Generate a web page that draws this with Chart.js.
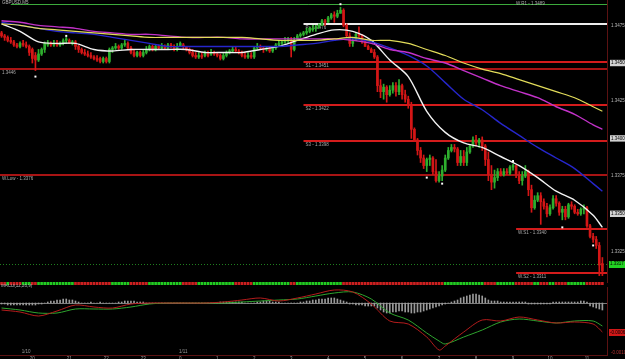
<!DOCTYPE html>
<html><head><meta charset="utf-8">
<script src="https://cdn.jsdelivr.net/npm/chart.js@4.4.1/dist/chart.umd.min.js"></script>
<style>
html,body{margin:0;padding:0;background:#000;overflow:hidden;width:625px;height:359px}
canvas{position:absolute;left:0;display:block}
</style></head><body>
<canvas id="cPrice" width="625" height="283" style="top:0"></canvas>
<canvas id="cRow" width="625" height="3" style="top:282px"></canvas>
<canvas id="cMacd" width="625" height="80" style="top:284px"></canvas>
<script>
// ---------------- DATA ----------------
const symbolTitle = 'GBPUSD,M5';
const macdTitle = 'MACD(12,26,9)';
const hourLabels = ['20','21','22','23','0','1','2','3','4','5','6','7','8','9','10','11'];
const firstHourBar = 10;
const barsPerHour = 12;
const dateLabels = ['1/10','1/11'];
const dateLabelBars = [8, 59];
const priceTicks = [1.3325,1.3350,1.3375,1.3400,1.3425,1.3450,1.3475];
const macdTicks = [-0.0010];

const openP = [
1.3470,1.3468,1.3467,1.3465,1.3464,1.3462,1.3461,1.3463,1.3462,1.3461,
1.3459,1.3455,1.3452,1.3456,1.3459,1.3462,1.3463,1.3462,1.3463,1.3462,
1.3463,1.3465,1.3465,1.3463,1.3464,1.3461,1.3459,1.3457,1.3456,1.3455,
1.3454,1.3453,1.3453,1.3451,1.3453,1.3451,1.3459,1.3460,1.3461,1.3460,
1.3462,1.3463,1.3460,1.3457,1.3455,1.3457,1.3455,1.3457,1.3459,1.3461,
1.3459,1.3461,1.3460,1.3461,1.3460,1.3462,1.3461,1.3459,1.3461,1.3462,
1.3461,1.3459,1.3457,1.3455,1.3454,1.3455,1.3455,1.3457,1.3456,1.3457,
1.3456,1.3455,1.3453,1.3455,1.3457,1.3458,1.3459,1.3458,1.3457,1.3455,
1.3454,1.3455,1.3454,1.3460,1.3461,1.3460,1.3459,1.3460,1.3458,1.3460,
1.3462,1.3463,1.3464,1.3465,1.3465,1.3459,1.3465,1.3468,1.3469,1.3470,
1.3471,1.3472,1.3473,1.3474,1.3475,1.3478,1.3477,1.3480,1.3482,1.3481,
1.3483,1.3485,1.3475,1.3468,1.3463,1.3465,1.3469,1.3468,1.3464,1.3461,
1.3459,1.3457,1.3454,1.3435,1.3431,1.3434,1.3429,1.3432,1.3435,1.3431,
1.3435,1.3429,1.3426,1.3422,1.3406,1.3399,1.3392,1.3387,1.3382,1.3386,
1.3387,1.3378,1.3372,1.3375,1.3379,1.3387,1.3392,1.3394,1.3393,1.3384,
1.3388,1.3384,1.3391,1.3395,1.3399,1.3397,1.3399,1.3395,1.3386,1.3376,
1.3371,1.3374,1.3378,1.3376,1.3378,1.3377,1.3381,1.3382,1.3376,1.3372,
1.3375,1.3378,1.3366,1.3354,1.3359,1.3362,1.3358,1.3355,1.3350,1.3354,
1.3360,1.3357,1.3351,1.3353,1.3348,1.3356,1.3355,1.3351,1.3350,1.3353,
1.3354,1.3342,1.3335,1.3333,1.3329,1.3317];
const highP = [
1.3471,1.3469,1.3468,1.3467,1.3465,1.3463,1.3464,1.3465,1.3464,1.3462,
1.3460,1.3457,1.3459,1.3460,1.3464,1.3465,1.3464,1.3465,1.3465,1.3464,
1.3466,1.3467,1.3466,1.3465,1.3465,1.3462,1.3460,1.3459,1.3458,1.3457,
1.3455,1.3455,1.3454,1.3454,1.3454,1.3460,1.3461,1.3463,1.3462,1.3463,
1.3465,1.3464,1.3461,1.3459,1.3458,1.3458,1.3459,1.3461,1.3462,1.3462,
1.3462,1.3462,1.3463,1.3462,1.3463,1.3463,1.3462,1.3463,1.3464,1.3463,
1.3461,1.3460,1.3459,1.3457,1.3457,1.3457,1.3458,1.3458,1.3459,1.3458,
1.3457,1.3456,1.3457,1.3458,1.3459,1.3461,1.3461,1.3459,1.3458,1.3457,
1.3457,1.3457,1.3461,1.3463,1.3462,1.3461,1.3461,1.3461,1.3461,1.3463,
1.3465,1.3465,1.3467,1.3467,1.3467,1.3467,1.3469,1.3470,1.3471,1.3473,
1.3474,1.3475,1.3475,1.3476,1.3479,1.3479,1.3481,1.3483,1.3484,1.3485,
1.3487,1.3486,1.3476,1.3470,1.3467,1.3470,1.3474,1.3469,1.3465,1.3462,
1.3460,1.3459,1.3455,1.3439,1.3436,1.3435,1.3435,1.3437,1.3437,1.3439,
1.3436,1.3432,1.3428,1.3424,1.3407,1.3400,1.3394,1.3389,1.3387,1.3389,
1.3388,1.3386,1.3378,1.3382,1.3389,1.3394,1.3396,1.3396,1.3394,1.3392,
1.3392,1.3394,1.3396,1.3401,1.3402,1.3400,1.3401,1.3396,1.3391,1.3382,
1.3379,1.3380,1.3380,1.3380,1.3380,1.3382,1.3383,1.3382,1.3378,1.3378,
1.3382,1.3379,1.3369,1.3362,1.3364,1.3364,1.3360,1.3357,1.3356,1.3362,
1.3362,1.3358,1.3355,1.3355,1.3357,1.3358,1.3356,1.3353,1.3354,1.3356,
1.3355,1.3343,1.3337,1.3335,1.3331,1.3321];
const lowP = [
1.3467,1.3465,1.3464,1.3463,1.3461,1.3460,1.3460,1.3461,1.3460,1.3455,
1.3450,1.3445,1.3451,1.3455,1.3457,1.3461,1.3461,1.3461,1.3461,1.3461,
1.3462,1.3463,1.3463,1.3462,1.3459,1.3457,1.3456,1.3455,1.3454,1.3453,
1.3452,1.3451,1.3450,1.3450,1.3450,1.3450,1.3457,1.3459,1.3459,1.3459,
1.3461,1.3459,1.3456,1.3454,1.3454,1.3454,1.3454,1.3456,1.3458,1.3458,
1.3458,1.3459,1.3459,1.3459,1.3459,1.3460,1.3458,1.3458,1.3461,1.3459,
1.3458,1.3456,1.3454,1.3453,1.3453,1.3453,1.3454,1.3454,1.3455,1.3455,
1.3454,1.3452,1.3452,1.3454,1.3456,1.3457,1.3457,1.3456,1.3454,1.3453,
1.3453,1.3453,1.3453,1.3459,1.3459,1.3457,1.3458,1.3457,1.3457,1.3459,
1.3461,1.3462,1.3463,1.3463,1.3454,1.3458,1.3465,1.3467,1.3468,1.3469,
1.3470,1.3471,1.3471,1.3473,1.3475,1.3475,1.3477,1.3479,1.3477,1.3480,
1.3483,1.3474,1.3467,1.3461,1.3461,1.3465,1.3467,1.3463,1.3461,1.3459,
1.3457,1.3453,1.3431,1.3427,1.3426,1.3424,1.3428,1.3430,1.3428,1.3429,
1.3426,1.3424,1.3420,1.3400,1.3398,1.3389,1.3384,1.3380,1.3378,1.3382,
1.3376,1.3371,1.3371,1.3372,1.3378,1.3386,1.3391,1.3391,1.3382,1.3382,
1.3382,1.3382,1.3390,1.3394,1.3395,1.3394,1.3392,1.3382,1.3372,1.3366,
1.3367,1.3372,1.3375,1.3375,1.3376,1.3376,1.3379,1.3374,1.3370,1.3369,
1.3374,1.3362,1.3351,1.3353,1.3358,1.3343,1.3353,1.3348,1.3349,1.3353,
1.3355,1.3349,1.3346,1.3346,1.3347,1.3353,1.3350,1.3349,1.3349,1.3350,
1.3341,1.3334,1.3331,1.3327,1.3309,1.3309];
const closeP = [
1.3468,1.3467,1.3465,1.3464,1.3462,1.3461,1.3463,1.3462,1.3461,1.3457,
1.3453,1.3452,1.3456,1.3459,1.3463,1.3463,1.3462,1.3463,1.3462,1.3463,
1.3465,1.3466,1.3463,1.3464,1.3461,1.3459,1.3457,1.3456,1.3455,1.3454,
1.3453,1.3452,1.3451,1.3453,1.3451,1.3459,1.3460,1.3461,1.3460,1.3462,
1.3463,1.3460,1.3457,1.3455,1.3457,1.3455,1.3457,1.3459,1.3461,1.3459,
1.3461,1.3460,1.3461,1.3460,1.3462,1.3461,1.3459,1.3461,1.3463,1.3461,
1.3459,1.3457,1.3455,1.3454,1.3455,1.3454,1.3457,1.3455,1.3457,1.3456,
1.3455,1.3453,1.3455,1.3457,1.3458,1.3459,1.3458,1.3457,1.3455,1.3454,
1.3455,1.3454,1.3460,1.3461,1.3460,1.3459,1.3460,1.3458,1.3460,1.3462,
1.3463,1.3464,1.3465,1.3466,1.3459,1.3465,1.3468,1.3469,1.3470,1.3471,
1.3473,1.3473,1.3474,1.3475,1.3478,1.3477,1.3480,1.3482,1.3481,1.3483,
1.3485,1.3475,1.3468,1.3463,1.3465,1.3469,1.3468,1.3464,1.3461,1.3459,
1.3457,1.3454,1.3435,1.3431,1.3434,1.3429,1.3432,1.3435,1.3431,1.3435,
1.3429,1.3426,1.3422,1.3406,1.3399,1.3392,1.3387,1.3382,1.3386,1.3387,
1.3378,1.3372,1.3375,1.3379,1.3387,1.3392,1.3394,1.3393,1.3384,1.3388,
1.3384,1.3391,1.3395,1.3399,1.3397,1.3399,1.3395,1.3386,1.3376,1.3371,
1.3374,1.3378,1.3376,1.3378,1.3377,1.3381,1.3382,1.3376,1.3372,1.3375,
1.3378,1.3366,1.3354,1.3359,1.3362,1.3358,1.3355,1.3350,1.3354,1.3360,
1.3357,1.3351,1.3353,1.3348,1.3356,1.3355,1.3351,1.3350,1.3353,1.3354,
1.3342,1.3335,1.3333,1.3329,1.3316,1.3312];

// moving averages read at these bar positions
const maIdx = [0,6,12,18,24,30,36,42,48,54,60,66,72,78,84,90,96,102,108,114,120,126,132,138,144,150,156,162,168,174,180,186,192,195];
const maWhite   = [1.3476,1.3471,1.3464,1.3463,1.3463,1.3459,1.3458,1.3459,1.3459,1.3459,1.3459,1.3457,1.3457,1.3457,1.3459,1.3461,1.3465,1.3469,1.3472,1.3471,1.3465,1.3452,1.3441,1.3418,1.3404,1.3397,1.3394,1.3388,1.3382,1.3374,1.3365,1.3359,1.3349,1.3341];
const maBlue    = [1.3477,1.3475,1.3473,1.3471,1.3470,1.3469,1.3467,1.3465,1.3463,1.3461,1.3461,1.3461,1.3461,1.3461,1.3461,1.3461,1.3462,1.3463,1.3465,1.3466,1.3464,1.3460,1.3455,1.3448,1.3437,1.3426,1.3419,1.3410,1.3402,1.3394,1.3387,1.3380,1.3370,1.3365];
const maMagenta = [1.3478,1.3477,1.3475,1.3474,1.3473,1.3471,1.3470,1.3469,1.3469,1.3468,1.3467,1.3467,1.3467,1.3466,1.3466,1.3466,1.3466,1.3466,1.3466,1.3465,1.3463,1.3459,1.3457,1.3453,1.3450,1.3445,1.3440,1.3435,1.3431,1.3427,1.3421,1.3416,1.3409,1.3406];
const maYellow  = [1.3476,1.3475,1.3473,1.3472,1.3471,1.3470,1.3469,1.3468,1.3467,1.3467,1.3467,1.3467,1.3467,1.3467,1.3466,1.3465,1.3465,1.3465,1.3466,1.3467,1.3465,1.3465,1.3463,1.3459,1.3455,1.3450,1.3446,1.3443,1.3439,1.3435,1.3431,1.3427,1.3421,1.3418];

const fractalIdx = [11,21,110,138,143,166,182,192];
const fractalVal = [1.3441,1.3468,1.3489,1.3374,1.3370,1.3385,1.3341,1.3329];

const pivotNames = ['P','S1','S2','S3'];
const pivotValues = [1.3476,1.3451,1.3422,1.3398];
const pivotStartBar = 98;
const weeklyNames = ['W.S1','W.S2'];
const weeklyValues = [1.3340,1.3311];
const weeklyStartBar = 167;
const upperLineName = 'W.R1';
const upperLineValue = 1.3489;
const upperLineStartBar = 3;
const fullLineNames = ['', 'W.Low'];
const fullLineValues = [1.3446, 1.3376];
const askPrice = 1.3317;

const trendRow = [
-1,-1,1,-1,-1,-1,-1,1,1,1,
-1,-1,1,1,1,1,1,1,1,1,
1,1,1,1,-1,-1,-1,-1,-1,-1,
-1,-1,-1,-1,-1,-1,1,1,1,1,
1,1,-1,-1,-1,-1,-1,-1,1,1,
1,1,1,1,1,1,1,1,1,-1,
-1,-1,-1,-1,1,1,1,1,1,1,
1,1,1,1,1,1,-1,-1,-1,-1,
-1,-1,1,1,1,1,1,1,1,1,
1,1,1,1,-1,-1,1,1,1,1,
1,1,1,1,1,1,1,1,1,1,
1,-1,-1,-1,-1,-1,-1,-1,-1,-1,
-1,-1,-1,-1,-1,-1,-1,-1,-1,-1,
-1,-1,-1,-1,-1,-1,-1,-1,-1,-1,
-1,-1,-1,-1,1,1,1,1,1,1,
1,1,1,1,1,1,1,-1,-1,-1,
-1,1,1,1,1,1,1,-1,-1,-1,
-1,-1,-1,1,1,-1,-1,-1,1,1,
-1,-1,-1,-1,1,1,1,1,1,1,
-1,-1,-1,-1,-1,-1];

const macdIdx    = [0,6,12,18,24,30,36,42,48,54,60,66,72,78,84,90,96,102,108,114,120,126,132,138,142,144,150,156,162,168,174,180,186,192,195];
const macdMain   = [-0.00014,-0.00018,-0.00026,-0.00016,-0.00004,-0.00008,-0.00010,-0.00002,0,0,0,0,0.00002,0.00006,0.00010,0.00004,0.00010,0.00018,0.00026,0.00022,-0.00002,-0.00036,-0.00042,-0.00068,-0.00094,-0.00086,-0.00058,-0.00034,-0.00036,-0.00028,-0.00034,-0.00040,-0.00038,-0.00042,-0.00058];
const macdSignal = [-0.00010,-0.00014,-0.00020,-0.00020,-0.00012,-0.00012,-0.00012,-0.00008,-0.00002,0,0,0,0,0.00002,0.00004,0.00006,0.00008,0.00014,0.00020,0.00022,0.00008,-0.00020,-0.00034,-0.00060,-0.00076,-0.00082,-0.00068,-0.00054,-0.00038,-0.00032,-0.00036,-0.00040,-0.00036,-0.00036,-0.00046];
const macdHist = [
-0.00002,-0.00002,-0.00004,-0.00004,-0.00004,-0.00004,-0.00004,-0.00004,-0.00004,-0.00004,
-0.00004,-0.00004,-0.00002,-0.00002,0,0.00002,0.00004,0.00004,0.00006,0.00006,
0.00008,0.00008,0.00006,0.00006,0.00004,0.00002,0,0,0,0.00002,
0,0,0.00002,0,0,0,0,0,0.00002,0.00002,
0.00004,0.00004,0.00004,0.00004,0.00002,0.00002,0.00002,0,0,0,
0,0,0,0,0,0,0,0,0,0,
0,0,0,0,0,0,0,0,0,0,
0,0.00002,0.00002,0.00002,0.00002,0.00002,0.00002,0.00002,0.00002,0,
0,0,0,0.00002,0.00002,0.00004,0.00004,0.00004,0.00002,0.00002,
0.00002,0,0,0,0,0,0,0.00002,0.00002,0.00004,
0.00004,0.00006,0.00006,0.00008,0.00008,0.00008,0.0001,0.0001,0.0001,0.00008,
0.00006,0.00004,0.00002,-0.00002,-0.00002,-0.00004,-0.00004,-0.00004,-0.00006,-0.00006,
-0.00006,-0.00006,-0.0001,-0.00014,-0.00018,-0.0002,-0.0002,-0.00018,-0.00018,-0.00016,
-0.00016,-0.00018,-0.00018,-0.0002,-0.0002,-0.00018,-0.00018,-0.00016,-0.00014,-0.00012,
-0.0001,-0.00008,-0.00006,-0.00004,-0.00002,0,0.00002,0.00004,0.00006,0.0001,
0.00012,0.00014,0.00016,0.00018,0.00018,0.00016,0.00014,0.0001,0.00006,0.00004,
0.00004,0.00004,0.00002,0.00002,0.00002,0.00002,0.00002,0.00002,0.00002,0.00002,
0.00002,-0.00002,-0.00002,-0.00002,-0.00002,-0.00002,-0.00002,-0.00002,-0.00002,0.00002,
0.00002,0.00002,0.00002,0.00002,0.00002,0.00002,0.00002,0.00002,0.00004,0.00004,
0.00002,-0.00006,-0.00008,-0.0001,-0.00012,-0.00014];

// ---------------- STYLE ----------------
const C = {
  bull:'#2eae2e', bear:'#d41616', axisText:'#b8b8b8', axisLine:'#5c1212',
  white:'#f2f2f2', blue:'#2626cc', magenta:'#c232c8', yellow:'#e2dc5a',
  pivotP:'#ececec', pivotS:'#d41c1c', fullLine:'#a81414', upper:'#3caa3c', ask:'#1f7f1f',
  label:'#a8a8a8', macdMain:'#b41c1c', macdSignal:'#2ea42e', hist:'#9a9a9a',
  rowUp:'#22cc22', rowDn:'#cc2020', boxBg:'#d2d2d2', askBox:'#22d222', macdBox:'#d01818'
};
const FONT = '"Liberation Sans", Arial, sans-serif';
const FS = 4.5;
const X_MIN = -0.5, X_MAX = 196.5, AXIS_W = 18;

const pts = (ix, vals) => ix.map((x, k) => ({x, y: vals[k]}));
function txt(ctx, s, x, y, color, align, base) {
  ctx.font = FS + 'px ' + FONT; ctx.fillStyle = color;
  ctx.textAlign = align || 'left'; ctx.textBaseline = base || 'top';
  ctx.fillText(s, x, y);
}
const noPad = s => { s.paddingTop = 0; s.paddingBottom = 0; s.paddingLeft = 0; s.paddingRight = 0; };
const candleColors = openP.map((o, i) => closeP[i] >= o ? C.bull : C.bear);
const common = { responsive:false, animation:false, devicePixelRatio:1, events:[],
  plugins:{ legend:{display:false}, tooltip:{enabled:false} } };

// ---------------- PRICE PANEL ----------------
const levelPlugin = {
  id:'levels',
  beforeDatasetsDraw(chart) {
    const {ctx, chartArea:a, scales:{x, y}} = chart;
    ctx.save();
    const hline = (val, fromX, color, w, dash) => {
      const py = Math.round(y.getPixelForValue(val)) + (w % 2 ? 0.5 : 0);
      ctx.strokeStyle = color; ctx.lineWidth = w; ctx.setLineDash(dash || []);
      ctx.beginPath(); ctx.moveTo(fromX, py); ctx.lineTo(a.right, py); ctx.stroke();
      ctx.setLineDash([]);
      return py;
    };
    fullLineValues.forEach((v, k) => {
      const py = hline(v, a.left, C.fullLine, 2);
      txt(ctx, (fullLineNames[k] ? fullLineNames[k] + ' - ' : '') + v.toFixed(4), a.left + 2, py + 2, C.label);
    });
    {
      const py = hline(upperLineValue, x.getPixelForValue(upperLineStartBar), C.upper, 1);
      txt(ctx, upperLineName + ' - ' + upperLineValue.toFixed(4), x.getPixelForValue(weeklyStartBar), py - 3, C.label);
    }
    const px0 = x.getPixelForValue(pivotStartBar);
    pivotValues.forEach((v, k) => {
      const py = hline(v, px0, k === 0 ? C.pivotP : C.pivotS, 2);
      txt(ctx, pivotNames[k] + ' - ' + v.toFixed(4), px0 + 2, py + 2, C.label);
    });
    const pw0 = x.getPixelForValue(weeklyStartBar);
    weeklyValues.forEach((v, k) => {
      const py = hline(v, pw0, C.pivotS, 2);
      txt(ctx, weeklyNames[k] + ' - ' + v.toFixed(4), pw0 + 2, py + 2, C.label);
    });
    hline(askPrice, a.left, C.ask, 1, [1, 2]);
    ctx.restore();
  },
  afterDraw(chart) {
    const {ctx, chartArea:a, scales:{y}} = chart;
    ctx.save();
    txt(ctx, symbolTitle, 2, 1, C.axisText);
    const py = y.getPixelForValue(askPrice);
    ctx.fillStyle = C.askBox; ctx.fillRect(a.right + 2, Math.round(py) - 3, 16, 7);
    txt(ctx, askPrice.toFixed(4), a.right + 3, py + 0.5, '#000', 'left', 'middle');
    ctx.restore();
  }
};

const isBoxed = v => Math.round(v * 10000) % 50 === 0;

new Chart(document.getElementById('cPrice'), {
  type:'bar',
  data:{ datasets:[
    {type:'line', data:pts(maIdx, maYellow), borderColor:C.yellow, borderWidth:1.2, pointRadius:0, tension:0.3, order:1},
    {type:'line', data:pts(maIdx, maMagenta), borderColor:C.magenta, borderWidth:1.4, pointRadius:0, tension:0.3, order:1},
    {type:'line', data:pts(maIdx, maBlue), borderColor:C.blue, borderWidth:1.4, pointRadius:0, tension:0.3, order:1},
    {type:'line', data:pts(maIdx, maWhite), borderColor:C.white, borderWidth:1.4, pointRadius:0, tension:0.3, order:1},
    {data:lowP.map((l, i) => ({x:i, y:[l, highP[i]]})), backgroundColor:candleColors, barThickness:1, grouped:false, order:3},
    {data:openP.map((o, i) => ({x:i, y:[o, closeP[i]]})), backgroundColor:candleColors, barThickness:2, minBarLength:1, grouped:false, order:2},
    {type:'line', data:pts(fractalIdx, fractalVal), showLine:false, pointStyle:'rect', pointRadius:1.4, backgroundColor:'#ffffff', borderWidth:0, order:0}
  ]},
  options:{ ...common,
    layout:{padding:0, autoPadding:false},
    scales:{
      x:{type:'linear', min:X_MIN, max:X_MAX, offset:false, display:false},
      y:{position:'right', min:1.33041, max:1.34918,
         afterFit:s => { s.width = AXIS_W; noPad(s); },
         afterBuildTicks:s => { s.ticks = priceTicks.map(v => ({value:v})); },
         grid:{display:false, drawTicks:false},
         border:{display:true, color:C.axisLine, width:1},
         ticks:{ padding:4, font:{family:FONT, size:FS},
           callback:v => v.toFixed(4),
           color:c => isBoxed(c.tick.value) ? '#000' : C.axisText,
           showLabelBackdrop:c => isBoxed(c.tick.value),
           backdropColor:C.boxBg, backdropPadding:{top:0.5, bottom:0.5, left:1, right:1} } }
    }
  },
  plugins:[levelPlugin]
});

// ---------------- TREND ROW ----------------
new Chart(document.getElementById('cRow'), {
  type:'bar',
  data:{ datasets:[{ data:trendRow.map((v, i) => ({x:i, y:[0, 1]})),
    backgroundColor:trendRow.map(v => v > 0 ? C.rowUp : C.rowDn), barThickness:2 }]},
  options:{ ...common, layout:{padding:{right:AXIS_W}, autoPadding:false},
    scales:{ x:{type:'linear', min:X_MIN, max:X_MAX, offset:false, display:false},
             y:{min:0, max:1, display:false} } }
});

// ---------------- MACD PANEL ----------------
const macdPlugin = {
  id:'macdDeco',
  beforeDatasetsDraw(chart) {
    const {ctx, chartArea:a, scales:{y}} = chart;
    ctx.save();
    const py = Math.round(y.getPixelForValue(0)) + 0.5;
    ctx.strokeStyle = '#7a7a7a'; ctx.lineWidth = 1;
    ctx.beginPath(); ctx.moveTo(a.left, py); ctx.lineTo(a.right, py); ctx.stroke();
    ctx.restore();
  },
  afterDraw(chart) {
    const {ctx, chartArea:a, scales:{x, y}} = chart;
    ctx.save();
    txt(ctx, macdTitle, 1, 0, C.axisText);
    dateLabels.forEach((s, k) => txt(ctx, s, x.getPixelForValue(dateLabelBars[k]), a.bottom - 0.5, '#9a9a9a', 'center', 'bottom'));
    const last = macdMain[macdMain.length - 1];
    const py = y.getPixelForValue(last);
    ctx.fillStyle = C.macdBox; ctx.fillRect(a.right + 2, Math.round(py) - 3, 16, 7);
    txt(ctx, last.toFixed(4), a.right + 3, py + 0.5, '#000', 'left', 'middle');
    ctx.restore();
  }
};

new Chart(document.getElementById('cMacd'), {
  type:'bar',
  data:{ datasets:[
    {type:'line', data:pts(macdIdx, macdSignal), borderColor:C.macdSignal, borderWidth:1, pointRadius:0, tension:0.3, order:1},
    {type:'line', data:pts(macdIdx, macdMain), borderColor:C.macdMain, borderWidth:1, pointRadius:0, tension:0.3, order:0},
    {data:macdHist.map((v, i) => ({x:i, y:v})), backgroundColor:C.hist, barThickness:1, order:2}
  ]},
  options:{ ...common,
    layout:{padding:{top:3}, autoPadding:false},
    scales:{
      x:{type:'linear', min:X_MIN, max:X_MAX, offset:false, position:'bottom',
         afterFit:s => { s.height = 9; noPad(s); },
         afterBuildTicks:s => { s.ticks = hourLabels.map((_, k) => ({value:firstHourBar + k * barsPerHour})); },
         grid:{display:false, drawTicks:false},
         border:{display:true, color:C.axisLine, width:1},
         ticks:{ autoSkip:false, maxRotation:0, padding:1, font:{family:FONT, size:FS}, color:'#a0a0a0',
           callback:(v, idx) => hourLabels[idx] } },
      y:{position:'right', min:-0.00104, max:0.00032,
         afterFit:s => { s.width = AXIS_W; noPad(s); },
         afterBuildTicks:s => { s.ticks = macdTicks.map(v => ({value:v})); },
         grid:{display:false, drawTicks:false},
         border:{display:true, color:C.axisLine, width:1},
         ticks:{ padding:4, font:{family:FONT, size:FS}, color:'#b03030', callback:v => v.toFixed(4) } }
    }
  },
  plugins:[macdPlugin]
});
</script></body></html>
